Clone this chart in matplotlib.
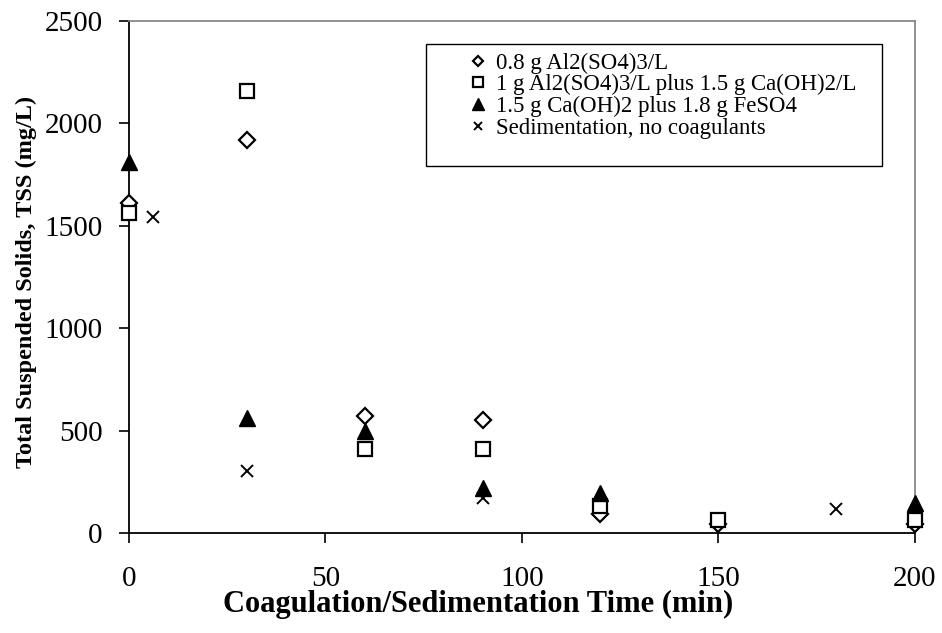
import matplotlib
matplotlib.use('Agg')
import matplotlib.pyplot as plt
from matplotlib.patches import Rectangle

plt.rcParams['font.family'] = ['Liberation Serif', 'DejaVu Serif']

# series data (time in min, TSS in mg/L)
t_alum = [0, 30, 60, 90, 120, 150, 200]
tss_alum = [1610, 1920, 570, 550, 95, 42, 45]

t_alum_lime = [0, 30, 60, 90, 120, 150, 200]
tss_alum_lime = [1560, 2160, 410, 410, 130, 65, 65]

t_lime_fe = [0, 30, 60, 90, 120, 200]
tss_lime_fe = [1810, 560, 500, 220, 195, 145]

t_sed = [6, 30, 90, 180]
tss_sed = [1545, 305, 170, 115]

labels = ['0.8 g Al2(SO4)3/L',
          '1 g Al2(SO4)3/L plus 1.5 g Ca(OH)2/L',
          '1.5 g Ca(OH)2 plus 1.8 g FeSO4',
          'Sedimentation, no coagulants']

fig = plt.figure(figsize=(9.42, 6.33), dpi=100)
ax = fig.add_axes([0.137, 0.158, 0.834, 0.809])

ax.plot(t_alum, tss_alum, linestyle='none', marker='D', ms=8, mfc='white',
        mec='black', mew=1.6, label=labels[0], clip_on=False, zorder=3)
ax.plot(t_alum_lime, tss_alum_lime, linestyle='none', marker='s', ms=10, mfc='white',
        mec='black', mew=1.6, label=labels[1], clip_on=False, zorder=3)
ax.plot(t_lime_fe, tss_lime_fe, linestyle='none', marker='^', ms=12, mfc='black',
        mec='black', label=labels[2], clip_on=False, zorder=3)
ax.plot(t_sed, tss_sed, linestyle='none', marker='x', ms=9, mec='black',
        mew=1.4, label=labels[3], clip_on=False, zorder=3)

ax.set_xlim(0, 200)
ax.set_ylim(0, 2500)
ax.set_xticks([0, 50, 100, 150, 200])
ax.set_yticks([0, 500, 1000, 1500, 2000, 2500])
ax.tick_params(labelsize=21, direction='out', length=7, width=1.2)
ax.tick_params(axis='y', pad=12)
ax.tick_params(axis='x', pad=17)

for s in ['left', 'bottom']:
    ax.spines[s].set_color('black')
    ax.spines[s].set_linewidth(1.3)
for s in ['top', 'right']:
    ax.spines[s].set_color('#888888')
    ax.spines[s].set_linewidth(1.3)

ax.set_xlabel('Coagulation/Sedimentation Time (min)', fontsize=22, fontweight='bold')
ax.xaxis.set_label_coords(0.444, -0.112)
ax.set_ylabel('Total Suspended Solids, TSS (mg/L)', fontsize=17.5, fontweight='bold')
ax.yaxis.set_label_coords(-0.117, 0.49)

# legend box drawn separately so the handle sits well inside the frame
ax.add_patch(Rectangle((0.378, 0.717), 0.58, 0.238, transform=ax.transAxes,
                       fill=True, facecolor='white', edgecolor='black', lw=1.0, zorder=4))
leg = ax.legend(loc='upper left', bbox_to_anchor=(0.433, 0.938), fontsize=16.5,
                frameon=False, handlelength=0.8, handletextpad=0.35, borderpad=0,
                labelspacing=0.02, markerscale=0.7, borderaxespad=0)
leg.set_zorder(5)

fig.savefig('out.png', dpi=100)
